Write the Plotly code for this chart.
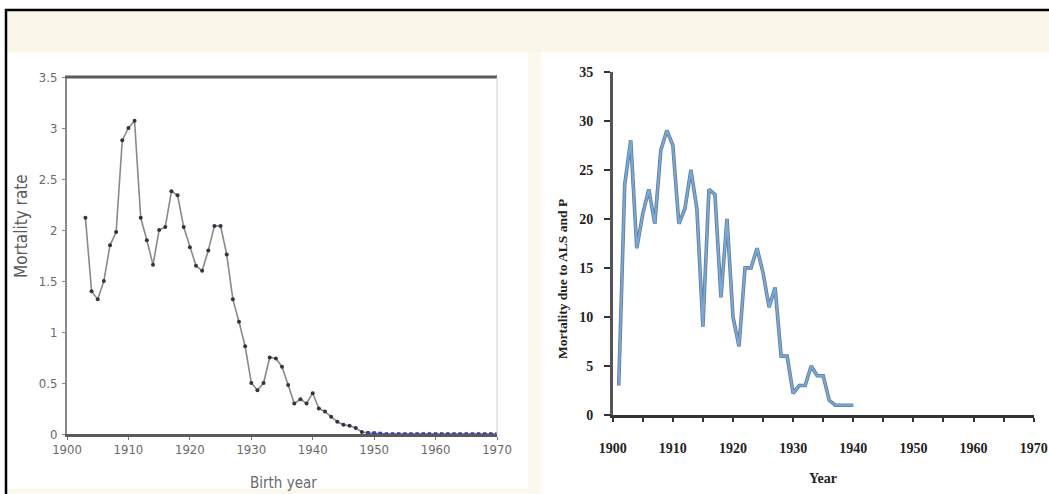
import plotly.graph_objects as go

W, H = 1049, 494

# ---- Left chart data (birth year vs mortality rate) ----
birth_years = list(range(1903, 1950))
mortality_rate = [2.12, 1.40, 1.32, 1.50, 1.85, 1.98, 2.88, 3.00, 3.07, 2.12,
                  1.90, 1.66, 2.00, 2.03, 2.38, 2.34, 2.03, 1.83, 1.65, 1.60,
                  1.80, 2.04, 2.04, 1.76, 1.32, 1.10, 0.86, 0.50, 0.43, 0.50,
                  0.75, 0.74, 0.66, 0.48, 0.30, 0.34, 0.30, 0.40, 0.25, 0.22,
                  0.17, 0.12, 0.09, 0.08, 0.06, 0.02, 0.01]
tail_years = list(range(1949, 1971))
tail_rate = [0.01, 0.01, 0.005, 0.0, 0.0, 0.0, 0.0, 0.0, 0.0, 0.0, 0.0,
             0.0, 0.0, 0.0, 0.0, 0.0, 0.0, 0.0, 0.0, 0.0, 0.0, 0.0]
left_xticks = [1900, 1910, 1920, 1930, 1940, 1950, 1960, 1970]
left_yticks = [0, 0.5, 1, 1.5, 2, 2.5, 3, 3.5]
left_yticktext = ["0", "0.5", "1", "1.5", "2", "2.5", "3", "3.5"]

# ---- Right chart data (year vs mortality due to ALS and P) ----
years = list(range(1901, 1941))
als_mortality = [3, 23.5, 28, 17, 20.5, 23, 19.5, 27, 29, 27.5,
                 19.5, 21, 25, 21, 9, 23, 22.5, 12, 20, 10,
                 7, 15, 15, 17, 14.5, 11, 13, 6, 6, 2.2,
                 3, 3, 5, 4, 4, 1.5, 1, 1, 1, 1]
right_xticks = list(range(1900, 1971, 5))
right_xticktext = [str(v) if v % 10 == 0 else "" for v in right_xticks]
right_yticks = [0, 5, 10, 15, 20, 25, 30, 35]

def px(x):
    return x / W

def py(y):
    return 1 - y / H

fig = go.Figure()

# left series
fig.add_trace(go.Scatter(x=birth_years, y=mortality_rate, mode="lines+markers",
                         line=dict(color="#8a8a8a", width=1.6),
                         marker=dict(color="#333344", size=4),
                         xaxis="x", yaxis="y", showlegend=False))
fig.add_trace(go.Scatter(x=tail_years, y=tail_rate, mode="lines+markers",
                         line=dict(color="#6666bb", width=1.4),
                         marker=dict(color="#3a3aa0", size=3.5, symbol="square"),
                         xaxis="x", yaxis="y", showlegend=False))

# right series (dark halo under a blue line)
fig.add_trace(go.Scatter(x=years, y=als_mortality, mode="lines",
                         line=dict(color="#6a7a90", width=3.6),
                         xaxis="x2", yaxis="y2", showlegend=False))
fig.add_trace(go.Scatter(x=years, y=als_mortality, mode="lines",
                         line=dict(color="#72aae0", width=2.0),
                         xaxis="x2", yaxis="y2", showlegend=False))

left_family = "DejaVu Sans Condensed, Liberation Sans Narrow, Liberation Sans, Arial"
left_font = dict(family=left_family, size=13, color="#6a6a6a")
right_font = dict(family="Liberation Serif, Times New Roman, serif", size=14, color="#222222",
                  weight="bold")

fig.update_layout(
    template="none",
    width=W, height=H, margin=dict(l=0, r=0, t=0, b=0, pad=0, autoexpand=False),
    paper_bgcolor="white", plot_bgcolor="rgba(0,0,0,0)",
    xaxis=dict(domain=[px(67), px(497)], range=[1900, 1970], tickvals=left_xticks,
               showgrid=False, zeroline=False, showline=True, linecolor="#5a5a5a",
               linewidth=3, ticks="outside", ticklen=3, tickcolor="#777",
               tickfont=left_font, anchor="y", automargin=False,
               ticklabelstandoff=-2),
    yaxis=dict(domain=[py(434), py(77)], range=[0, 3.5], tickvals=left_yticks,
               ticktext=left_yticktext, showgrid=False, zeroline=False,
               showline=True, linecolor="#8a8a8a", linewidth=2,
               ticks="outside", ticklen=3, tickcolor="#888",
               tickfont=left_font, anchor="x", automargin=False,
               ticklabelstandoff=2),
    xaxis2=dict(domain=[px(612.7), px(1033.7)], range=[1900, 1970],
                tickvals=right_xticks, ticktext=right_xticktext,
                showgrid=False, zeroline=False, showline=True, linecolor="#333",
                linewidth=2.5, ticks="outside", ticklen=4, tickcolor="#333",
                tickwidth=1.5, tickfont=right_font, ticklabelstandoff=14,
                anchor="y2", automargin=False),
    yaxis2=dict(domain=[py(415), py(71.7)], range=[0, 35], tickvals=right_yticks,
                showgrid=False, zeroline=False, showline=True, linecolor="#555",
                linewidth=2.5, ticks="outside", ticklen=6, tickcolor="#333",
                tickwidth=1.5, tickfont=right_font, ticklabelstandoff=8,
                anchor="x2", automargin=False),
)

shapes = []
# cream top band
shapes.append(dict(type="rect", xref="paper", yref="paper", x0=px(7), x1=1,
                   y0=py(52), y1=py(11), fillcolor="#faf6ea", line=dict(width=0), layer="below"))
# cream vertical divider strip
shapes.append(dict(type="rect", xref="paper", yref="paper", x0=px(528), x1=px(541),
                   y0=0, y1=py(52), fillcolor="#fbf8ee", line=dict(width=0), layer="below"))
# cream bottom strip under left panel
shapes.append(dict(type="rect", xref="paper", yref="paper", x0=px(7), x1=px(528),
                   y0=0, y1=py(489), fillcolor="#fbf8ee", line=dict(width=0), layer="below"))
# black outer border (left & top)
shapes.append(dict(type="line", xref="paper", yref="paper", x0=px(6), x1=px(6),
                   y0=0, y1=py(9), line=dict(color="black", width=2.5)))
shapes.append(dict(type="line", xref="paper", yref="paper", x0=px(5), x1=1,
                   y0=py(10), y1=py(10), line=dict(color="black", width=2.5)))
# left chart: top frame line and right frame line
shapes.append(dict(type="line", xref="paper", yref="paper", x0=px(65), x1=px(497),
                   y0=py(77), y1=py(77), line=dict(color="#5a5a5a", width=3)))
shapes.append(dict(type="line", xref="paper", yref="paper", x0=px(497), x1=px(497),
                   y0=py(434), y1=py(77), line=dict(color="#d0d0d0", width=1)))
fig.update_layout(shapes=shapes)

fig.update_layout(annotations=[
    dict(text="Mortality rate", x=px(21), y=py(226), xref="paper", yref="paper",
         textangle=-90, showarrow=False, xanchor="center", yanchor="middle",
         font=dict(family=left_family, size=17, color="#5a5a5a")),
    dict(text="Birth year", x=px(283), y=py(483), xref="paper", yref="paper",
         showarrow=False, xanchor="center", yanchor="middle",
         font=dict(family=left_family, size=15, color="#6a6a6a")),
    dict(text="<b>Mortality due to ALS and P</b>", x=px(562), y=py(279), xref="paper", yref="paper",
         textangle=-90, showarrow=False, xanchor="center", yanchor="middle",
         font=dict(family="Liberation Serif, Times New Roman, serif", size=13.5, color="#222")),
    dict(text="<b>Year</b>", x=px(823), y=py(478), xref="paper", yref="paper",
         showarrow=False, xanchor="center", yanchor="middle",
         font=dict(family="Liberation Serif, Times New Roman, serif", size=14, color="#222")),
])

fig.write_html("out.html")
